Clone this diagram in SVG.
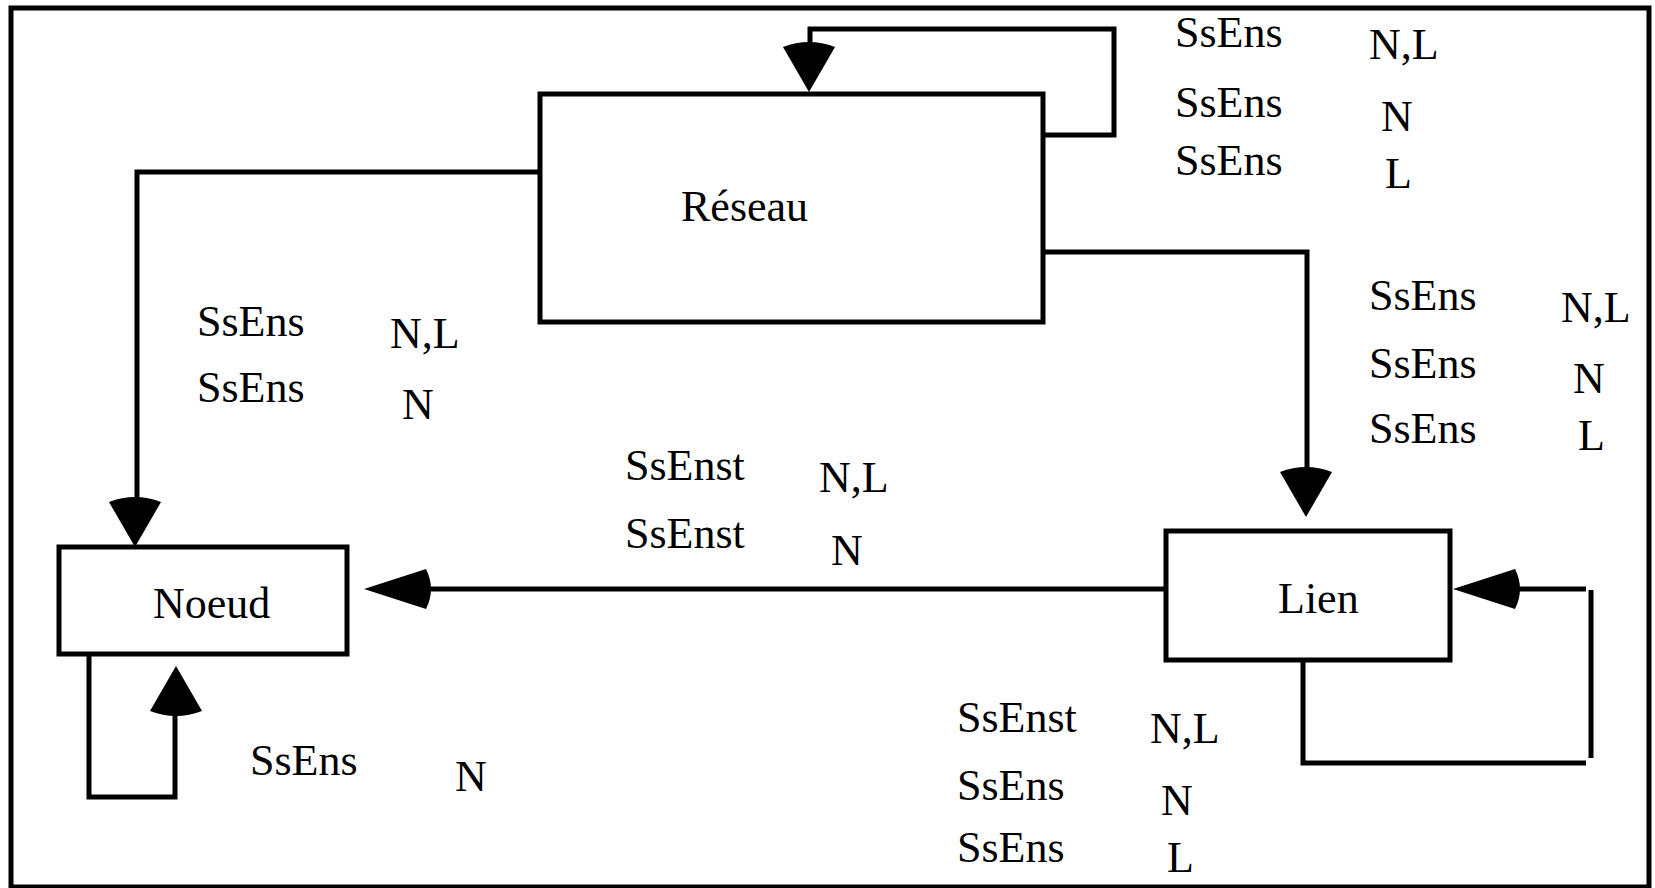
<svg xmlns="http://www.w3.org/2000/svg" xmlns:xlink="http://www.w3.org/1999/xlink" width="1655" height="888" viewBox="0 0 1655 888">
<style>
.box{fill:#fff;stroke:#000;stroke-width:5}
.ln{fill:none;stroke:#000;stroke-width:5}
text{font-family:"Liberation Serif","Times New Roman",serif;font-size:44px;fill:#000}
</style>
<defs>
<path id="ahv" d="M0,0 L-26,-45 Q0,-55 26,-45 Z" fill="#000"/>
<path id="ahh" d="M0,0 L62,-20 Q72,0 62,20 Z" fill="#000"/>
</defs>
<rect x="0" y="0" width="1655" height="888" fill="#fff"/>
<rect id="frame" x="11" y="8" width="1638" height="879" fill="none" stroke="#000" stroke-width="5"/>
<g id="connectors">
<polyline class="ln" points="1043,135 1114,135 1114,29 810,29 810,48"/>
<use xlink:href="#ahv" x="809" y="92"/>
<polyline class="ln" points="540,172 137,172 137,505"/>
<use xlink:href="#ahv" x="135" y="547"/>
<polyline class="ln" points="1043,252 1307,252 1307,473"/>
<use xlink:href="#ahv" x="1306" y="517"/>
<line class="ln" x1="1166" y1="589" x2="426" y2="589"/>
<use xlink:href="#ahh" x="364" y="589"/>
<polyline class="ln" points="89,654 89,797 175,797 175,711"/>
<use xlink:href="#ahv" transform="translate(176,666) scale(1,-1)"/>
<polyline class="ln" points="1303,660 1303,763 1586,763"/>
<line class="ln" x1="1591" y1="590" x2="1591" y2="758"/>
<line class="ln" x1="1586" y1="589" x2="1513" y2="589"/>
<use xlink:href="#ahh" x="1453" y="589"/>
</g>
<g id="reseau">
<rect class="box" x="540" y="94" width="503" height="228"/>
<text x="681" y="221">Réseau</text>
</g>
<g id="noeud">
<rect class="box" x="59" y="547" width="288" height="107"/>
<text x="153" y="618">Noeud</text>
</g>
<g id="lien">
<rect class="box" x="1166" y="531" width="284" height="129"/>
<text x="1278" y="613">Lien</text>
</g>
<g id="labels">
<text x="1175" y="47">SsEns</text>
<text x="1369" y="59">N,L</text>
<text x="1175" y="117">SsEns</text>
<text x="1381" y="131">N</text>
<text x="1175" y="175">SsEns</text>
<text x="1385" y="188">L</text>
<text x="1369" y="310">SsEns</text>
<text x="1561" y="322">N,L</text>
<text x="1369" y="378">SsEns</text>
<text x="1573" y="393">N</text>
<text x="1369" y="443">SsEns</text>
<text x="1578" y="450">L</text>
<text x="197" y="336">SsEns</text>
<text x="390" y="348">N,L</text>
<text x="197" y="402">SsEns</text>
<text x="402" y="419">N</text>
<text x="625" y="480">SsEnst</text>
<text x="819" y="492">N,L</text>
<text x="625" y="548">SsEnst</text>
<text x="831" y="565">N</text>
<text x="250" y="775">SsEns</text>
<text x="455" y="791">N</text>
<text x="957" y="732">SsEnst</text>
<text x="1150" y="743">N,L</text>
<text x="957" y="800">SsEns</text>
<text x="1161" y="815">N</text>
<text x="957" y="862">SsEns</text>
<text x="1167" y="872">L</text>
</g>
</svg>
